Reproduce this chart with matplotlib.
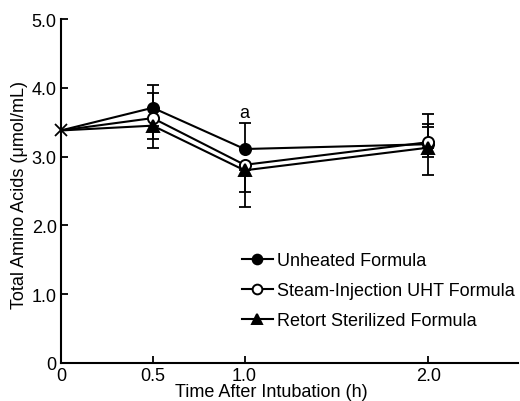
import matplotlib
matplotlib.use("Agg")
import matplotlib.pyplot as plt

plt.rcParams['font.family'] = ['Liberation Sans', 'DejaVu Sans']

# Sampling times (h) and the shared baseline value at t = 0
times = [0.0, 0.5, 1.0, 2.0]
baseline = 3.38

# Means with the upper / lower error bar lengths drawn at 0.5, 1.0 and 2.0 h
unheated = [baseline, 3.71, 3.11, 3.18]
unheated_err_up = [0.33, 0.38, 0.44]
unheated_err_down = [0.0, 0.0, 0.45]

uht = [baseline, 3.56, 2.88, 3.21]
uht_err_up = [0.36, 0.0, 0.26]
uht_err_down = [0.30, 0.40, 0.22]

retort = [baseline, 3.45, 2.80, 3.13]
retort_err_up = [0.0, 0.0, 0.30]
retort_err_down = [0.32, 0.53, 0.0]

series_names = ["Unheated Formula", "Steam-Injection UHT Formula", "Retort Sterilized Formula"]

y_ticks = [0, 1.0, 2.0, 3.0, 4.0, 5.0]
y_tick_labels = ["0", "1.0", "2.0", "3.0", "4.0", "5.0"]
x_ticks = [0, 0.5, 1.0, 2.0]
x_tick_labels = ["0", "0.5", "1.0", "2.0"]

fig = plt.figure(figsize=(5.2, 4.02), dpi=100)
ax = fig.add_axes([0.117, 0.095, 0.88, 0.855])

styles = [
    dict(marker='o', mfc='black', mec='black'),
    dict(marker='o', mfc='white', mec='black'),
    dict(marker='^', mfc='black', mec='black'),
]

handles = []
for vals, up, down, name, st in zip(
        [unheated, uht, retort],
        [unheated_err_up, uht_err_up, retort_err_up],
        [unheated_err_down, uht_err_down, retort_err_down],
        series_names, styles):
    ax.errorbar(times[1:], vals[1:], yerr=[down, up], fmt='none', ecolor='black',
                elinewidth=1.3, capsize=4, capthick=1.3, zorder=2)
    ln, = ax.plot(times, vals, color='black', lw=1.5, marker=st['marker'],
                  ms=8, mfc=st['mfc'], mec=st['mec'], mew=1.4,
                  markevery=[1, 2, 3], zorder=3, label=name)
    handles.append(ln)

ax.plot([times[0]], [baseline], marker='x', color='black', ms=8, mew=1.3,
        ls='none', zorder=4, clip_on=False)

ax.text(1.0, 3.64, "a", ha='center', va='center', fontsize=13)

ax.set_xlim(0, 2.49)
ax.set_ylim(0, 5.0)
ax.set_xticks(x_ticks)
ax.set_xticklabels(x_tick_labels)
ax.set_yticks(y_ticks)
ax.set_yticklabels(y_tick_labels)
ax.tick_params(direction='in', length=5, width=1.3, labelsize=13, pad=3)

for side in ['top', 'right']:
    ax.spines[side].set_visible(False)
for side in ['left', 'bottom']:
    ax.spines[side].set_linewidth(1.5)

ax.set_xlabel("Time After Intubation (h)", fontsize=13, labelpad=0)
ax.xaxis.set_label_coords(0.459, -0.058)
ax.set_ylabel("Total Amino Acids (\u03bcmol/mL)", fontsize=13, labelpad=3)
ax.yaxis.label.set_y(0.49)

leg = fig.legend(handles=handles, loc='center left', frameon=False,
                 fontsize=13, handlelength=1.7, handletextpad=0.25,
                 labelspacing=0.72, borderpad=0, borderaxespad=0,
                 bbox_to_anchor=(242 / 520, 1 - 292 / 402))
for h in leg.legend_handles:
    h.set_markersize(7)

fig.savefig("out.png", dpi=100)
